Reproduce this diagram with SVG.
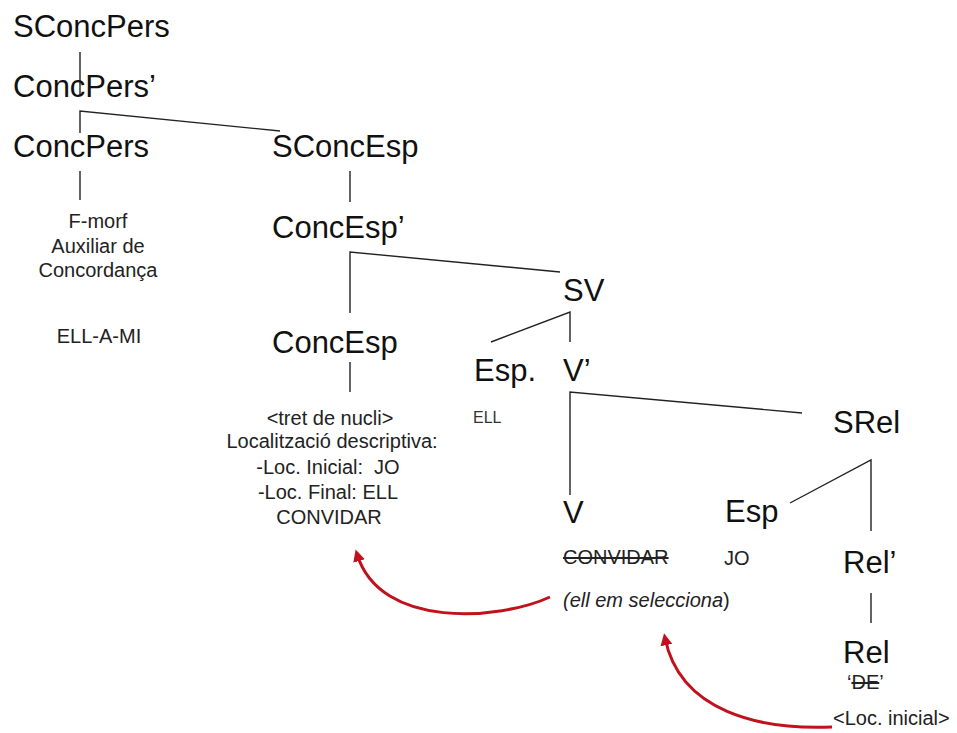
<svg xmlns="http://www.w3.org/2000/svg" width="957" height="733" viewBox="0 0 957 733">
  <defs>
    <style>
      text { font-family: "Liberation Sans", Arial, sans-serif; fill: #111; }
      .node { font-size: 31px; }
      .small { font-size: 20px; fill: #222; }
      .mid { text-anchor: middle; }
      .tiny { font-size: 16px; fill: #333; }
      .strike { text-decoration: line-through; }
      .edge { fill: none; stroke: #222; stroke-width: 1.4; }
      .move { fill: none; stroke: #c0121c; stroke-width: 3; }
    </style>
    <marker id="head" viewBox="0 0 10 10" refX="6" refY="5" markerWidth="4" markerHeight="4" orient="auto-start-reverse">
      <path d="M0,0 L10,5 L0,10 z" fill="#c0121c"/>
    </marker>
  </defs>
  <rect width="957" height="733" fill="#ffffff"/>

  <!-- tree branches -->
  <g id="connectors">
    <path class="edge" d="M80,52 V96"/>
    <path class="edge" d="M80,133 V111 L280,131"/>
    <path class="edge" d="M80,171 V200"/>
    <path class="edge" d="M350,171 V202"/>
    <path class="edge" d="M350,313 V252 L560,272"/>
    <path class="edge" d="M350,362 V392"/>
    <path class="edge" d="M491,342 L570,312 V342"/>
    <path class="edge" d="M570,495 V392 L802,413"/>
    <path class="edge" d="M790,503 L871,460 V531"/>
    <path class="edge" d="M871,593 V623"/>
    <!-- movement arrows -->
    <path class="move" marker-end="url(#head)" d="M550,597 C500,620 380,630 357,554"/>
    <path class="move" marker-end="url(#head)" d="M832,727 C760,730 680,712 665,638"/>
  </g>

  <g id="SConcPers"><text class="node" x="13" y="37">SConcPers</text></g>
  <g id="ConcPersBar"><text class="node" x="13" y="97">ConcPers’</text></g>
  <g id="ConcPers">
    <text class="node" x="13" y="157">ConcPers</text>
    <text class="small mid" x="98" y="228">F-morf</text>
    <text class="small mid" x="98" y="253">Auxiliar de</text>
    <text class="small mid" x="98" y="277">Concordança</text>
    <text class="small mid" x="99" y="343">ELL-A-MI</text>
  </g>
  <g id="SConcEsp"><text class="node" x="272" y="157">SConcEsp</text></g>
  <g id="ConcEspBar"><text class="node" x="272" y="238">ConcEsp’</text></g>
  <g id="ConcEsp">
    <text class="node" x="272" y="353">ConcEsp</text>
    <text class="small mid" x="330" y="425">&lt;tret de nucli&gt;</text>
    <text class="small mid" x="332" y="448">Localització descriptiva:</text>
    <text class="small mid" x="328" y="474" xml:space="preserve">-Loc. Inicial:  JO</text>
    <text class="small mid" x="328" y="499">-Loc. Final: ELL</text>
    <text class="small mid" x="329" y="524">CONVIDAR</text>
  </g>
  <g id="SV"><text class="node" x="563" y="301">SV</text></g>
  <g id="EspSV">
    <text class="node" x="474" y="381">Esp.</text>
    <text class="tiny" x="473" y="423">ELL</text>
  </g>
  <g id="VBar"><text class="node" x="563" y="381">V’</text></g>
  <g id="SRel"><text class="node" x="833" y="433">SRel</text></g>
  <g id="V">
    <text class="node" x="563" y="523">V</text>
    <text class="small strike" x="563" y="564">CONVIDAR</text>
    <text class="small" x="563" y="607"><tspan font-style="italic">(ell em selecciona</tspan>)</text>
  </g>
  <g id="EspSRel">
    <text class="node" x="725" y="522">Esp</text>
    <text class="small" x="724" y="565">JO</text>
  </g>
  <g id="RelBar"><text class="node" x="843" y="573">Rel’</text></g>
  <g id="Rel">
    <text class="node" x="843" y="663">Rel</text>
    <text class="small" x="847" y="689" font-size="18">‘<tspan class="strike">DE</tspan>’</text>
    <text class="small" x="833" y="725" font-size="21">&lt;Loc. inicial&gt;</text>
  </g>
</svg>
